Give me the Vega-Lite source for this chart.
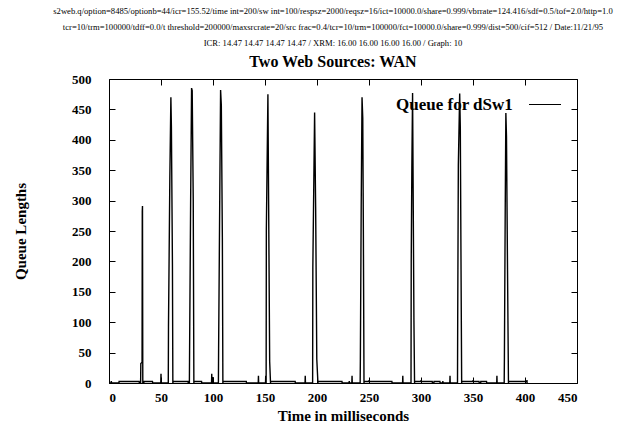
{
  "$schema": "https://vega.github.io/schema/vega-lite/v6.json",
  "width": 468,
  "height": 304,
  "padding": {"left": 13, "top": 7, "right": 5, "bottom": 5},
  "background": "white",
  "title": {
    "text": [
      "s2web.q/option=8485/optionb=44/icr=155.52/time  int=200/sw  int=100/respsz=2000/reqsz=16/ict=10000.0/share=0.999/vbrrate=124.416/sdf=0.5/tof=2.0/http=1.0",
      "tcr=10/trm=100000/tdff=0.0/t  threshold=200000/maxsrcrate=20/src frac=0.4/tcr=10/trm=100000/fct=10000.0/share=0.999/dist=500/cif=512 / Date:11/21/95",
      "ICR: 14.47  14.47  14.47  14.47 / XRM: 16.00  16.00  16.00  16.00 / Graph: 10"
    ],
    "subtitle": "Two Web Sources: WAN",
    "font": "Liberation Serif",
    "fontSize": 8.6,
    "fontWeight": "normal",
    "lineHeight": 16,
    "color": "black",
    "subtitleFont": "Liberation Serif",
    "subtitleFontSize": 16,
    "subtitleFontWeight": "bold",
    "subtitleColor": "black",
    "subtitlePadding": 6,
    "anchor": "middle",
    "dx": -10,
    "offset": 3
  },
  "config": {
    "view": {"stroke": "black", "strokeWidth": 1},
    "axis": {
      "grid": false,
      "domain": false,
      "tickColor": "black",
      "tickSize": -6,
      "labelFont": "Liberation Serif",
      "labelFontSize": 13,
      "labelFontWeight": "bold",
      "labelColor": "black",
      "titleFont": "Liberation Serif",
      "titleFontSize": 15,
      "titleFontWeight": "bold",
      "titleColor": "black"
    }
  },
  "data": {
    "values": [
      {"t": 0, "q": 0}, {"t": 2, "q": 0}, {"t": 2.2, "q": 3}, {"t": 2.5, "q": 0},
      {"t": 9.6, "q": 0}, {"t": 9.7, "q": 2.5}, {"t": 29, "q": 2.5}, {"t": 29.2, "q": 0},
      {"t": 30.4, "q": 0}, {"t": 30.6, "q": 32}, {"t": 31.8, "q": 34}, {"t": 32.0, "q": 282}, {"t": 32.2, "q": 291}, {"t": 32.5, "q": 0},
      {"t": 33.5, "q": 0}, {"t": 33.6, "q": 2.5}, {"t": 41.8, "q": 2.5}, {"t": 42, "q": 0},
      {"t": 49.8, "q": 0}, {"t": 50, "q": 15}, {"t": 50.2, "q": 0},
      {"t": 57, "q": 0}, {"t": 57.2, "q": 93}, {"t": 58.5, "q": 338}, {"t": 59.5, "q": 470}, {"t": 60, "q": 421}, {"t": 61, "q": 194}, {"t": 61.4, "q": 0},
      {"t": 61.7, "q": 2.5}, {"t": 76, "q": 2.5}, {"t": 76.2, "q": 0},
      {"t": 77.3, "q": 0}, {"t": 77.5, "q": 54}, {"t": 78.5, "q": 301}, {"t": 79.4, "q": 485}, {"t": 80, "q": 481}, {"t": 81, "q": 301}, {"t": 81.6, "q": 0},
      {"t": 81.8, "q": 2.5}, {"t": 89, "q": 2.5}, {"t": 89.2, "q": 0},
      {"t": 98.6, "q": 0}, {"t": 98.8, "q": 15}, {"t": 99, "q": 0},
      {"t": 99.8, "q": 0}, {"t": 100, "q": 10}, {"t": 100.2, "q": 0},
      {"t": 105.2, "q": 0}, {"t": 105.4, "q": 57}, {"t": 106.5, "q": 306}, {"t": 107.3, "q": 482}, {"t": 108, "q": 457}, {"t": 109, "q": 239}, {"t": 109.5, "q": 0},
      {"t": 109.7, "q": 2.5}, {"t": 132, "q": 2.5}, {"t": 132.2, "q": 0},
      {"t": 143.5, "q": 0}, {"t": 143.7, "q": 12}, {"t": 143.9, "q": 0},
      {"t": 150.5, "q": 0}, {"t": 150.7, "q": 12}, {"t": 150.9, "q": 0},
      {"t": 151.1, "q": 0}, {"t": 151.3, "q": 253}, {"t": 152.8, "q": 475}, {"t": 153.5, "q": 293}, {"t": 154.5, "q": 35}, {"t": 155.3, "q": 0},
      {"t": 155.5, "q": 2.5}, {"t": 179, "q": 2.5}, {"t": 179.2, "q": 0},
      {"t": 188.5, "q": 0}, {"t": 188.7, "q": 12}, {"t": 188.9, "q": 0},
      {"t": 195.8, "q": 0}, {"t": 196, "q": 190}, {"t": 197.7, "q": 445}, {"t": 198.7, "q": 289}, {"t": 199.8, "q": 39}, {"t": 200.9, "q": 0},
      {"t": 201, "q": 2.5}, {"t": 224, "q": 2.5}, {"t": 224.2, "q": 0},
      {"t": 230.8, "q": 0}, {"t": 231, "q": 3}, {"t": 231.2, "q": 0},
      {"t": 233.5, "q": 0}, {"t": 233.7, "q": 12}, {"t": 233.9, "q": 0},
      {"t": 241.5, "q": 0}, {"t": 241.7, "q": 40}, {"t": 242.5, "q": 290}, {"t": 243.3, "q": 470}, {"t": 244, "q": 436}, {"t": 244.6, "q": 244}, {"t": 245.2, "q": 0},
      {"t": 245.3, "q": 2.5}, {"t": 250, "q": 2.5}, {"t": 250.1, "q": 5}, {"t": 250.3, "q": 2.5}, {"t": 272, "q": 2.5}, {"t": 272.2, "q": 0},
      {"t": 282.3, "q": 0}, {"t": 282.5, "q": 12}, {"t": 282.7, "q": 0},
      {"t": 290.4, "q": 0}, {"t": 290.6, "q": 199}, {"t": 291.2, "q": 353}, {"t": 291.9, "q": 477}, {"t": 293.2, "q": 103}, {"t": 293.8, "q": 0},
      {"t": 294, "q": 2.5}, {"t": 300, "q": 2.5}, {"t": 300.1, "q": 5}, {"t": 300.3, "q": 2.5}, {"t": 310.8, "q": 2.5}, {"t": 311, "q": 0},
      {"t": 312.4, "q": 0}, {"t": 312.5, "q": 2.5}, {"t": 318.2, "q": 2.5}, {"t": 318.4, "q": 0},
      {"t": 320.8, "q": 0}, {"t": 321, "q": 3}, {"t": 321.2, "q": 0},
      {"t": 327.7, "q": 0}, {"t": 327.9, "q": 12}, {"t": 328.1, "q": 0},
      {"t": 335.1, "q": 0}, {"t": 335.3, "q": 108}, {"t": 335.9, "q": 358}, {"t": 337.2, "q": 476}, {"t": 337.8, "q": 419}, {"t": 338.5, "q": 187}, {"t": 339.1, "q": 0},
      {"t": 339.3, "q": 2.5}, {"t": 350, "q": 2.5}, {"t": 350.1, "q": 5}, {"t": 350.3, "q": 2.5}, {"t": 355.8, "q": 2.5}, {"t": 356, "q": 0},
      {"t": 357.4, "q": 0}, {"t": 357.5, "q": 2.5}, {"t": 363, "q": 2.5}, {"t": 363.2, "q": 0},
      {"t": 372.8, "q": 0}, {"t": 373, "q": 12}, {"t": 373.2, "q": 0},
      {"t": 380, "q": 0}, {"t": 380.2, "q": 42}, {"t": 381, "q": 290}, {"t": 381.6, "q": 444}, {"t": 382.2, "q": 405}, {"t": 383.2, "q": 185}, {"t": 384.1, "q": 0},
      {"t": 384.3, "q": 2.5}, {"t": 401.8, "q": 2.5}, {"t": 401.9, "q": 5}, {"t": 402, "q": 0}
    ]
  },
  "resolve": {"axis": {"x": "independent", "y": "independent"}},
  "layer": [
    {
      "mark": {"type": "line", "strokeWidth": 1.4, "interpolate": "linear"},
      "encoding": {
        "x": {
          "field": "t", "type": "quantitative",
          "scale": {"domain": [0, 450], "nice": false},
          "axis": {"values": [0, 50, 100, 150, 200, 250, 300, 350, 400, 450], "title": "Time in milliseconds", "labelPadding": 14, "titlePadding": 4}
        },
        "y": {
          "field": "q", "type": "quantitative",
          "scale": {"domain": [0, 500], "nice": false},
          "axis": {"values": [0, 50, 100, 150, 200, 250, 300, 350, 400, 450, 500], "title": "Queue Lengths", "labelPadding": 24, "titlePadding": 43}
        },
        "color": {
          "datum": "Queue for dSw1",
          "scale": {"range": ["black"]},
          "legend": {
            "title": null,
            "orient": "none",
            "legendX": 287,
            "legendY": 9,
            "symbolType": "stroke",
            "symbolSize": 1024,
            "symbolStrokeWidth": 1,
            "labelFont": "Liberation Serif",
            "labelFontSize": 17,
            "labelFontWeight": "bold",
            "labelColor": "black",
            "encode": {
              "symbols": {"update": {"x": {"value": 149}}},
              "labels": {"update": {"x": {"value": 0}}}
            }
          }
        }
      }
    },
    {
      "mark": {"type": "line", "opacity": 0},
      "encoding": {
        "x": {
          "field": "t", "type": "quantitative",
          "axis": {"orient": "top", "values": [0, 50, 100, 150, 200, 250, 300, 350, 400, 450], "labels": false, "title": null}
        },
        "y": {
          "field": "q", "type": "quantitative",
          "axis": {"orient": "right", "values": [0, 50, 100, 150, 200, 250, 300, 350, 400, 450, 500], "labels": false, "title": null}
        }
      }
    }
  ]
}
